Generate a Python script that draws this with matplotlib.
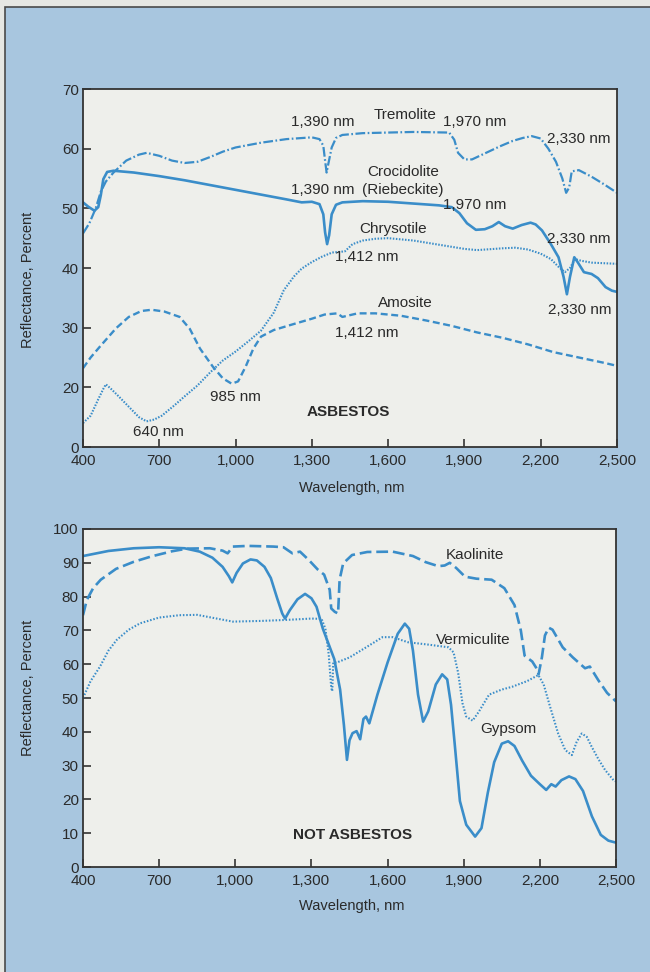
import numpy as np
import matplotlib
matplotlib.use("Agg")
import matplotlib.pyplot as plt
from matplotlib.patches import Rectangle

plt.rcParams['font.family'] = ['Liberation Sans', 'DejaVu Sans']
plt.rcParams['lines.scale_dashes'] = False

# ---------------- data (top panel: asbestos) ----------------
tremolite_nm = [400, 425, 450, 470, 490, 520, 570, 620, 650, 700, 750, 800, 850, 900, 950, 1000,
                1100, 1200, 1300, 1330, 1345, 1352, 1358, 1365, 1378, 1395, 1420, 1500, 1700, 1840,
                1860, 1875, 1900, 1930, 1960, 2000, 2040, 2090, 2130, 2165, 2200, 2230, 2260, 2285,
                2300, 2312, 2322, 2350, 2400, 2450, 2500]
tremolite_r = [45.8, 47.5, 50.0, 52.8, 54.5, 56.0, 58.0, 59.0, 59.3, 58.8, 58.0, 57.6, 57.8, 58.6, 59.5, 60.2,
               61.0, 61.6, 61.9, 61.6, 60.5, 58.0, 56.0, 57.5, 60.2, 61.8, 62.3, 62.6, 62.8, 62.7,
               61.5, 59.3, 58.2, 58.2, 58.8, 59.6, 60.4, 61.3, 61.8, 62.1, 61.7, 60.0, 57.8, 55.0,
               52.6, 53.5, 56.2, 56.4, 55.3, 54.0, 52.6]

crocidolite_nm = [400, 420, 445, 460, 470, 480, 495, 520, 600, 700, 800, 900, 1000, 1100, 1200, 1260,
                  1300, 1330, 1345, 1352, 1360, 1368, 1378, 1395, 1420, 1500, 1600, 1700, 1800, 1850,
                  1880, 1910, 1945, 1980, 2010, 2035, 2060, 2090, 2125, 2160, 2180, 2205, 2240, 2270,
                  2290, 2303, 2315, 2332, 2345, 2370, 2400, 2425, 2455, 2480, 2500]
crocidolite_r = [51.0, 50.3, 49.6, 50.2, 52.2, 54.9, 56.1, 56.3, 56.0, 55.4, 54.7, 53.9, 53.1, 52.3, 51.5, 51.0,
                 51.1, 50.7, 49.0, 46.0, 44.0, 45.5, 49.0, 50.6, 51.0, 51.2, 51.1, 50.8, 50.5, 50.2,
                 49.2, 47.5, 46.4, 46.5, 47.0, 47.7, 47.0, 46.6, 47.2, 47.6, 47.3, 46.3, 44.0, 41.8,
                 38.5, 35.6, 38.5, 41.8, 41.0, 39.3, 39.0, 38.3, 36.8, 36.2, 36.0]

chrysotile_nm = [400, 430, 460, 480, 490, 510, 540, 580, 620, 650, 680, 710, 760, 800, 850, 900, 950,
                 1000, 1050, 1100, 1150, 1190, 1230, 1260, 1300, 1340, 1380, 1410, 1430, 1460, 1500,
                 1550, 1600, 1700, 1800, 1900, 1950, 2050, 2100, 2150, 2200, 2240, 2270, 2295, 2315,
                 2335, 2360, 2400, 2500]
chrysotile_r = [8.0, 10.5, 16.0, 19.5, 20.5, 19.5, 17.0, 13.5, 10.0, 8.6, 9.2, 10.5, 14.0, 17.0, 20.3, 22.5, 24.5,
                26.0, 27.7, 29.5, 32.5, 36.3, 38.6, 39.9, 41.0, 41.9, 42.6, 42.7, 42.8, 44.0, 44.6,
                44.9, 45.0, 44.6, 43.9, 43.2, 43.0, 43.3, 43.4, 43.1, 42.4, 41.5, 40.2, 39.3, 40.0,
                41.5, 41.2, 40.9, 40.7]

amosite_nm = [400, 430, 470, 530, 580, 630, 670, 720, 780, 820, 860, 910, 950, 985, 1010, 1040, 1070,
              1100, 1150, 1220, 1300, 1350, 1400, 1420, 1440, 1480, 1550, 1650, 1750, 1850, 1950,
              2050, 2150, 2250, 2350, 2450, 2500]
amosite_r = [23.2, 25.0, 27.0, 29.9, 31.8, 32.8, 33.0, 32.7, 31.8, 29.8, 26.5, 23.5, 21.5, 20.6, 21.0, 23.5, 26.5,
             28.5, 29.6, 30.5, 31.5, 32.2, 32.4, 31.8, 32.0, 32.4, 32.4, 32.0, 31.2, 30.3, 29.2,
             28.3, 27.2, 25.9, 25.0, 24.1, 23.6]

# ---------------- data (bottom panel: not asbestos) ----------------
gypsum_nm = [400, 500, 600, 700, 800, 860, 910, 950, 975, 988, 1005, 1030, 1060, 1085, 1115, 1140, 1165,
             1185, 1196, 1215, 1245, 1275, 1300, 1320, 1345, 1370, 1390, 1413, 1428, 1440, 1450, 1462,
             1478, 1492, 1505, 1515, 1528, 1560, 1600, 1640, 1668, 1685, 1700, 1720, 1740, 1760, 1790,
             1815, 1835, 1850, 1865, 1885, 1910, 1945, 1970, 1995, 2020, 2050, 2075, 2100, 2130, 2165,
             2200, 2225, 2245, 2262, 2285, 2315, 2340, 2370, 2405, 2440, 2470, 2500]
gypsum_r = [92.0, 93.5, 94.3, 94.6, 94.3, 93.3, 91.5, 88.8, 86.0, 84.2, 87.0, 89.8, 91.0, 90.7, 88.8, 85.5, 79.5,
            75.0, 73.5, 76.0, 79.2, 80.8, 79.5, 77.0, 70.5, 65.5, 61.5, 52.5, 42.0, 31.7, 37.5, 39.6,
            40.2, 37.8, 43.8, 44.5, 42.5, 51.0, 60.5, 69.0, 72.0, 70.5, 64.0, 51.0, 43.0, 46.0, 54.0,
            57.0, 55.5, 48.0, 36.0, 19.5, 12.5, 9.0, 11.5, 22.0, 31.0, 36.5, 37.2, 35.8, 31.5, 27.0,
            24.5, 22.8, 24.5, 23.8, 25.7, 26.8, 26.0, 22.5, 15.0, 9.5, 7.8, 7.2]

kaolinite_nm = [400, 415, 440, 470, 530, 600, 670, 750, 810, 900, 950, 970, 990, 1050, 1150, 1190, 1225,
                1255, 1290, 1325, 1350, 1372, 1378, 1392, 1405, 1411, 1425, 1460, 1520, 1620, 1700,
                1750, 1800, 1825, 1845, 1870, 1905, 1950, 2010, 2060, 2100, 2125, 2140, 2170, 2185,
                2195, 2208, 2220, 2235, 2250, 2290, 2330, 2378, 2397, 2430, 2465, 2500]
kaolinite_r = [74.5, 79.0, 82.5, 85.0, 88.2, 90.3, 91.9, 93.4, 94.2, 94.3, 93.6, 92.8, 94.8, 95.0, 94.8, 94.6, 92.8,
               93.3, 90.8, 88.0, 86.5, 82.0, 76.5, 75.5, 75.0, 85.0, 89.8, 92.3, 93.2, 93.3, 92.0,
               90.2, 89.0, 89.2, 90.0, 88.5, 85.9, 85.3, 85.0, 82.5, 77.5, 70.0, 62.5, 60.8, 59.0,
               57.0, 62.0, 68.5, 70.8, 70.2, 65.0, 62.0, 58.8, 59.3, 55.3, 51.5, 49.0]

vermiculite_nm = [400, 430, 467, 500, 533, 580, 625, 700, 780, 850, 920, 990, 1100, 1200, 1300, 1340,
                  1355, 1368, 1378, 1382, 1386, 1400, 1450, 1520, 1580, 1620, 1680, 1760, 1840, 1860,
                  1878, 1895, 1910, 1935, 1960, 2000, 2050, 2090, 2150, 2194, 2215, 2240, 2272, 2300,
                  2326, 2345, 2365, 2385, 2404, 2430, 2457, 2490, 2500]
vermiculite_r = [50.0, 55.0, 59.3, 64.0, 67.2, 70.2, 72.1, 73.8, 74.5, 74.6, 73.6, 72.6, 72.8, 73.1, 73.5, 73.4,
                 70.5, 63.0, 53.0, 52.0, 60.5, 60.5, 62.0, 65.2, 68.0, 68.0, 66.5, 65.8, 65.0, 63.5,
                 57.5, 48.5, 44.5, 43.3, 46.0, 51.0, 52.5, 53.3, 55.0, 56.8, 54.0, 47.5, 39.5, 34.6,
                 33.1, 37.0, 39.5, 38.5, 35.6, 32.0, 28.7, 25.7, 25.3]

x_ticks = [400, 700, 1000, 1300, 1600, 1900, 2200, 2500]
x_labels = ['400', '700', '1,000', '1,300', '1,600', '1,900', '2,200', '2,500']
top_y_ticks = [0, 20, 30, 40, 50, 60, 70]
bot_y_ticks = [0, 10, 20, 30, 40, 50, 60, 70, 80, 90, 100]

top_notes = [
    ('1,390 nm', 1342, 64.5), ('Tremolite', 1666, 65.6), ('1,970 nm', 1941, 64.5),
    ('2,330 nm', 2350, 61.7), ('Crocidolite', 1658, 56.1), ('1,390 nm', 1342, 53.1),
    ('(Riebeckite)', 1658, 53.1), ('1,970 nm', 1941, 50.6), ('Chrysotile', 1619, 46.6),
    ('2,330 nm', 2350, 44.9), ('1,412 nm', 1516, 41.9), ('Amosite', 1666, 34.1),
    ('2,330 nm', 2354, 33.0), ('1,412 nm', 1516, 29.1), ('985 nm', 998, 16.9),
    ('640 nm', 696, 5.1),
]
bot_notes = [('Kaolinite', 1944, 92.3), ('Vermiculite', 1936, 67.3), ('Gypsom', 2076, 40.7)]

# ---------------- style ----------------
BG = '#a8c6df'
PLOT_BG = '#eeefeb'
LINE = '#3a8dc9'
TEXT = '#2a2a2a'
SPINE = '#333333'


def fwd(v):
    v = np.asarray(v, dtype=float)
    return np.where(v < 20, 10 + v / 2.0, v)


def inv(p):
    p = np.asarray(p, dtype=float)
    return np.where(p < 20, (p - 10) * 2.0, p)


W, H = 650, 972
fig = plt.figure(figsize=(W / 100, H / 100), dpi=100, facecolor='#e6e7e3')
bg = Rectangle((5 / W, -0.01), 1.0, 1 - 7 / H + 0.01, transform=fig.transFigure,
               facecolor=BG, edgecolor='#4a4a4a', lw=1.2, zorder=-10)
fig.patches.append(bg)

ax1 = fig.add_axes([83 / W, 1 - 447 / H, 534 / W, 358 / H])
ax2 = fig.add_axes([83 / W, 1 - 867 / H, 533 / W, 338 / H])
ax1.set_zorder(5)
ax2.set_zorder(5)


def style(ax):
    ax.set_facecolor(PLOT_BG)
    for s in ax.spines.values():
        s.set_color(SPINE)
        s.set_linewidth(1.3)
    ax.tick_params(direction='in', length=6, width=1.2, color=SPINE, labelcolor=TEXT,
                   labelsize=11, top=False, right=False)
    ax.tick_params(axis='x', pad=5)
    ax.tick_params(axis='y', pad=3)
    ax.set_xlim(400, 2500)
    ax.set_xticks(x_ticks)
    ax.set_xticklabels(x_labels)


style(ax1)
ax1.set_yscale('function', functions=(fwd, inv))
ax1.set_ylim(0, 70)
ax1.set_yticks(top_y_ticks)
ax1.set_yticklabels([str(t) for t in top_y_ticks])
ax1.yaxis.set_minor_locator(matplotlib.ticker.NullLocator())

ax1.plot(tremolite_nm, tremolite_r, color=LINE, lw=1.6, ls=(0, (7.0, 1.8, 1.2, 1.8)))
ax1.plot(crocidolite_nm, crocidolite_r, color=LINE, lw=1.9, ls='-')
ax1.plot(chrysotile_nm, chrysotile_r, color=LINE, lw=1.5, ls=(0, (1.1, 1.1)))
ax1.plot(amosite_nm, amosite_r, color=LINE, lw=1.7, ls=(0, (5.0, 2.6)))

for t, x, y in top_notes:
    ax1.text(x, y, t, ha='center', va='center', fontsize=11, color=TEXT)
ax1.text(1444, 11.6, 'ASBESTOS', ha='center', va='center', fontsize=11, fontweight='bold', color=TEXT)

style(ax2)
ax2.set_ylim(0, 100)
ax2.set_yticks(bot_y_ticks)
ax2.set_yticklabels([str(t) for t in bot_y_ticks])

ax2.plot(gypsum_nm, gypsum_r, color=LINE, lw=1.9, ls='-')
ax2.plot(kaolinite_nm, kaolinite_r, color=LINE, lw=1.9, ls=(0, (8.5, 3.5)))
ax2.plot(vermiculite_nm, vermiculite_r, color=LINE, lw=1.5, ls=(0, (1.1, 1.3)))

for t, x, y in bot_notes:
    ax2.text(x, y, t, ha='center', va='center', fontsize=11, color=TEXT)
ax2.text(1463, 9.5, 'NOT ASBESTOS', ha='center', va='center', fontsize=11, fontweight='bold', color=TEXT)

fig.text(28 / W, 1 - 280 / H, 'Reflectance, Percent', rotation=90, ha='center', va='center',
         fontsize=10.5, color=TEXT)
fig.text(28 / W, 1 - 688 / H, 'Reflectance, Percent', rotation=90, ha='center', va='center',
         fontsize=10.5, color=TEXT)
fig.text(352 / W, 1 - 488 / H, 'Wavelength, nm', ha='center', va='center', fontsize=10.5, color=TEXT)
fig.text(352 / W, 1 - 906 / H, 'Wavelength, nm', ha='center', va='center', fontsize=10.5, color=TEXT)

fig.savefig('out.png', dpi=100, facecolor=fig.get_facecolor())
